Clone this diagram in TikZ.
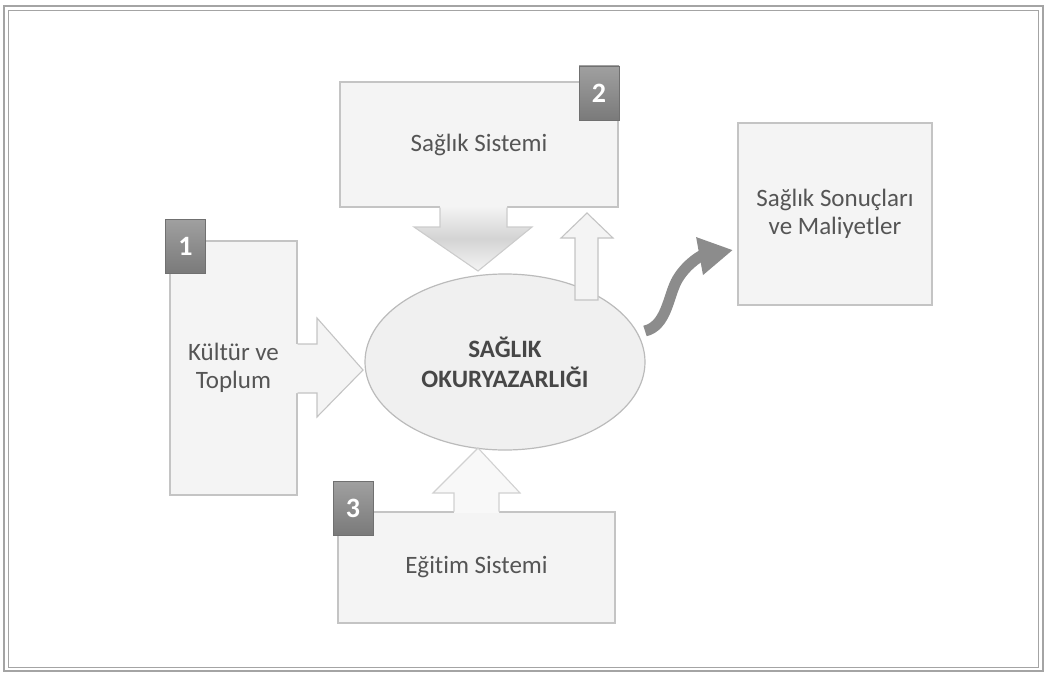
\documentclass[tikz,border=0pt]{standalone}
\usepackage{fontspec}
\setmainfont[Ligatures=NoCommon]{Carlito}
\usetikzlibrary{shapes.geometric,arrows.meta}
\definecolor{txt}{HTML}{555555}
\definecolor{boxfill}{HTML}{F4F4F4}
\definecolor{boxline}{HTML}{C4C4C4}
\definecolor{sqtop}{HTML}{A0A0A0}
\definecolor{sqbot}{HTML}{7A7A7A}
\definecolor{sqline}{HTML}{707070}
\definecolor{ellfill}{HTML}{F0F0F0}
\definecolor{ellline}{HTML}{BBBBBB}
\definecolor{curvy}{HTML}{8C8C8C}
\definecolor{frame}{HTML}{A4A4A4}
\tikzset{
  box/.style={draw=boxline, fill=boxfill, line width=1.1pt, inner sep=0pt,
    text=txt, align=center, font=\fontsize{25}{28}\selectfont},
  numsq/.style={draw=sqline, top color=sqtop, bottom color=sqbot, text=white,
    font=\fontsize{28}{28}\selectfont\bfseries, minimum width=40pt,
    minimum height=54pt, inner sep=0pt, line width=0.8pt},
  blockarrow/.style={draw=boxline, line width=1.1pt, line join=miter},
}
\begin{document}
\begin{tikzpicture}[x=1pt,y=-1pt]
\useasboundingbox (0,0) rectangle (1046,674);
% frame
\draw[frame, line width=1.2pt] (4,6) rectangle (1043,671);
\draw[frame, line width=1.0pt] (8,11) rectangle (1038,667);

% boxes
\node[box, minimum width=127pt, minimum height=254pt] (kultur) at (233.5,368) {Kültür ve\\Toplum};
\node[box, minimum width=278pt, minimum height=125pt] (saglik) at (479,144.5) {Sağlık Sistemi};
\node[box, minimum width=277pt, minimum height=111pt] (egitim) at (476.5,567.5) {Eğitim Sistemi};
\node[box, minimum width=194pt, minimum height=182pt] (sonuc) at (835,214) {Sağlık Sonuçları\\ve Maliyetler};

% ellipse
\node[ellipse, draw=ellline, fill=ellfill, line width=1.2pt, minimum width=280pt,
  minimum height=176pt, inner sep=0pt, align=center, text=black!72,
  font=\fontsize{25}{30}\selectfont\bfseries] (ok) at (505,362) {SAĞLIK\\OKURYAZARLIĞI};

% arrow 1: Kültür -> ellipse
\fill[boxfill] (296,344) -- (317,344) -- (317,318) -- (363,370) -- (317,417) -- (317,393) -- (296,393) -- cycle;
\draw[blockarrow] (297.5,344) -- (317,344) -- (317,318) -- (363,370) -- (317,417) -- (317,393) -- (297.5,393);

% arrow 2: Sağlık Sistemi -> ellipse
\shade[top color=boxfill, bottom color=boxfill, middle color=black!17]
  (440,206) -- (507,206) -- (507,227) -- (532,227) -- (478,271) -- (414,227) -- (440,227) -- cycle;
\draw[blockarrow, draw=black!20] (440,207.5) -- (440,227) -- (414,227) -- (478,271) -- (532,227) -- (507,227) -- (507,207.5);

% arrow 3: ellipse -> Sağlık Sistemi
\draw[blockarrow, fill=boxfill] (575,300) -- (598,300) -- (598,238) -- (613,238) -- (587,213) -- (561,238) -- (575,238) -- cycle;

% arrow 4: Eğitim -> ellipse
\fill[white!40!boxfill] (454,513) -- (454,493) -- (433,493) -- (478,448) -- (520,493) -- (499,493) -- (499,513) -- cycle;
\draw[blockarrow, draw=black!18] (454,511.5) -- (454,493) -- (433,493) -- (478,448) -- (520,493) -- (499,493) -- (499,511.5);

% curvy arrow ellipse -> outcomes
\coordinate (cs) at (645,331);
\coordinate (ce) at (733,250);
\draw[curvy, line width=11pt, -{Triangle[length=34pt,width=36pt]}]
  (cs) .. controls (666,326) and (668,298) .. (676,282)
  .. controls (684,266) and (700,256) .. (ce);

% number squares
\node[numsq] (n1) at (185.5,246) {1};
\node[numsq] (n2) at (599,93) {2};
\node[numsq] (n3) at (353,508) {3};
\end{tikzpicture}
\end{document}
